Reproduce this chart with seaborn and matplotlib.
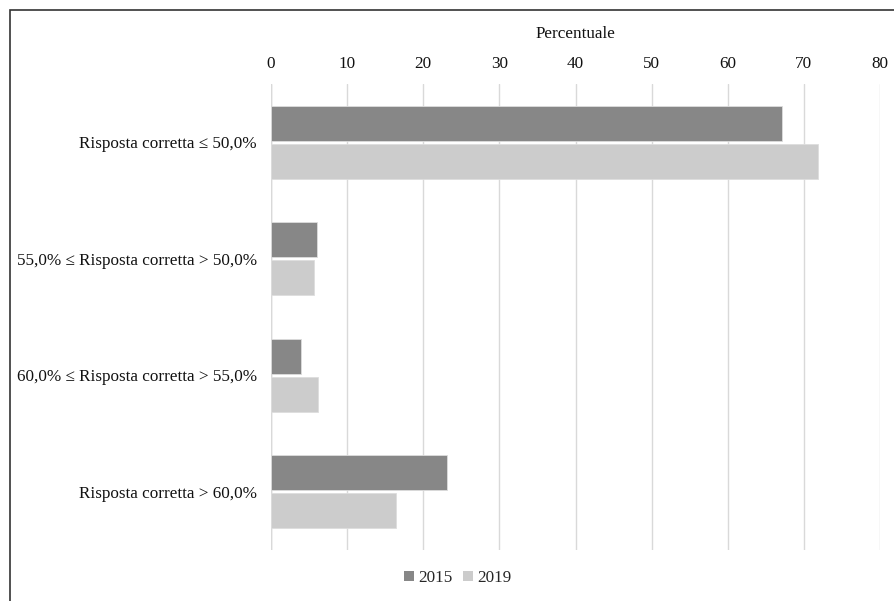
import matplotlib
matplotlib.use("Agg")
import matplotlib.pyplot as plt
import seaborn as sns
import pandas as pd
from matplotlib.patches import Rectangle

categories = ["Risposta corretta ≤ 50,0%",
              "55,0% ≤ Risposta corretta > 50,0%",
              "60,0% ≤ Risposta corretta > 55,0%",
              "Risposta corretta > 60,0%"]
years = ["2015", "2019"]
values_2015 = [67.1, 6.0, 4.0, 23.1]
values_2019 = [71.9, 5.65, 6.15, 16.4]
xticks = [0, 10, 20, 30, 40, 50, 60, 70, 80]

df = pd.DataFrame({
    "cat": categories * 2,
    "year": [years[0]] * 4 + [years[1]] * 4,
    "val": values_2015 + values_2019,
})

sns.set_theme(style="white")
plt.rcParams["font.family"] = ["Liberation Serif", "DejaVu Serif"]

FS = 12.3
fig = plt.figure(figsize=(8.94, 6.01), dpi=100)
ax = fig.add_axes([271/894, 1 - 550/601, (880-271)/894, (550-84)/601])

sns.barplot(data=df, y="cat", x="val", hue="year", order=categories,
            hue_order=years, palette=["#878787", "#cccccc"], width=0.65,
            gap=0.08, orient="h", ax=ax, edgecolor="#dddddd", linewidth=0.6,
            legend=True)

ax.set_xlim(0, 80)
ax.set_xticks(xticks)
ax.set_xticklabels([str(t) for t in xticks])
ax.xaxis.tick_top()
ax.xaxis.set_label_position("top")
ax.set_xlabel("Percentuale", fontsize=FS, color="#111111", labelpad=12.5)
ax.set_ylabel("")
ax.tick_params(axis="x", length=0, labelsize=FS, colors="#111111", pad=9)
ax.tick_params(axis="y", length=0, labelsize=FS, colors="#111111", pad=10)
ax.grid(axis="x", color="#d9d9d9", linewidth=1)
ax.set_axisbelow(True)
for s in ax.spines.values():
    s.set_visible(False)
ax.axvline(0, color="#d0d0d0", linewidth=1, zorder=0)

leg = ax.legend(loc="center", bbox_to_anchor=(458/894, 1 - 578/601),
                bbox_transform=fig.transFigure, ncol=2, frameon=False,
                fontsize=FS, handlelength=0.6, handleheight=0.6,
                handletextpad=0.25, columnspacing=0.6)
for h in leg.legend_handles:
    h.set_edgecolor("none")

fig.patches.append(Rectangle((10/894, -0.1), 1.2, 1 - 10/601 + 0.1,
                             transform=fig.transFigure, fill=False,
                             edgecolor="#333333", linewidth=1.2))

fig.savefig("out.png", dpi=100)
